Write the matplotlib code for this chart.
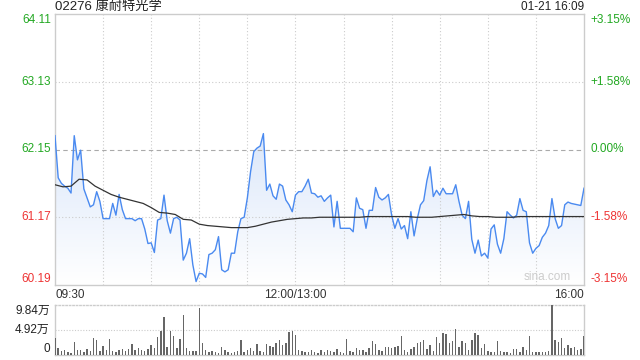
import numpy as np
import matplotlib
matplotlib.use("Agg")
import matplotlib.pyplot as plt

plt.rcParams['font.family'] = ['Liberation Sans', 'Noto Sans CJK SC', 'DejaVu Sans']

# stock info
title = "02276 康耐特光学"
stamp = "01-21 16:09"
prev_close = 62.15

# price every 2 minutes, 09:30 -> 16:00 (lunch break removed, 330 min)
price = [
    62.35, 61.74, 61.66, 61.62, 61.59, 61.52, 62.35, 62.00, 62.14, 61.58,
    61.45, 61.32, 61.35, 61.54, 61.40, 61.15, 61.15, 61.15, 61.37, 61.20,
    61.50, 61.28, 61.15, 61.15, 61.15, 61.12, 61.15, 61.15, 61.00, 60.79,
    60.80, 60.66, 61.13, 61.15, 61.49, 61.12, 60.94, 61.15, 61.17, 61.13,
    60.55, 60.65, 60.86, 60.48, 60.24, 60.36, 60.35, 60.30, 60.63, 60.65,
    60.70, 60.89, 60.41, 60.38, 60.41, 60.65, 60.65, 60.96, 61.15, 61.17,
    61.45, 61.83, 62.12, 62.17, 62.20, 62.38, 61.56, 61.65, 61.48, 61.43,
    61.65, 61.62, 61.42, 61.35, 61.25, 61.49, 61.54, 61.54, 61.62, 61.72,
    61.52, 61.51, 61.46, 61.48, 61.40, 61.45, 61.49, 61.03, 61.40, 61.01,
    61.01, 61.01, 61.01, 60.96, 61.45, 61.30, 61.28, 61.01, 61.27, 61.27,
    61.60, 61.46, 61.42, 61.45, 61.50, 61.20, 61.01, 61.15, 61.00, 61.05,
    60.86, 61.25, 60.90, 61.15, 61.35, 61.41, 61.70, 61.90, 61.47, 61.56,
    61.49, 61.59, 61.51, 61.51, 61.51, 61.64, 61.40, 61.20, 61.15, 61.40,
    60.85, 60.65, 60.84, 60.61, 60.65, 60.58, 61.00, 61.06, 60.78, 60.65,
    60.86, 61.25, 61.20, 61.16, 61.20, 61.44, 61.27, 61.25, 60.80, 60.65,
    60.72, 60.76, 60.88, 60.94, 61.05, 61.44, 61.15, 61.01, 61.05, 61.35,
    61.39, 61.37, 61.36, 61.35, 61.34, 61.59,
]

# average price every 5 minutes
avg_price = [
    61.64, 61.61, 61.62, 61.72, 61.71, 61.62, 61.56, 61.50, 61.46, 61.43,
    61.40, 61.37, 61.31, 61.24, 61.23, 61.21, 61.14, 61.13, 61.07, 61.05,
    61.04, 61.03, 61.02, 61.02, 61.02, 61.04, 61.07, 61.10, 61.12, 61.14,
    61.15, 61.16, 61.16, 61.17, 61.17, 61.17, 61.17, 61.17, 61.17, 61.18,
    61.18, 61.18, 61.18, 61.18, 61.18, 61.17, 61.17, 61.17, 61.18, 61.19,
    61.20, 61.21, 61.19, 61.18, 61.18, 61.17, 61.17, 61.17, 61.18, 61.18,
    61.18, 61.18, 61.18, 61.18, 61.18, 61.18, 61.18,
]

# volume every 2 minutes, in 万
volume = [
    3.3, 1.3, 0.8, 0.9, 0.5, 0.4, 2.6, 1.0, 0.9, 0.6,
    1.1, 0.8, 3.4, 3.0, 0.7, 1.8, 0.9, 3.1, 0.8, 0.5,
    0.9, 1.1, 0.7, 1.2, 2.2, 0.9, 1.3, 1.0, 0.8, 1.2,
    2.0, 1.3, 3.6, 4.8, 7.5, 1.6, 4.8, 3.7, 1.3, 3.2,
    7.9, 1.3, 0.8, 0.7, 0.7, 9.2, 2.3, 0.9, 0.6, 0.7,
    0.5, 0.4, 1.6, 0.9, 0.5, 0.4, 0.6, 0.8, 3.0, 0.6,
    0.9, 1.3, 0.8, 2.2, 0.7, 0.5, 2.1, 1.8, 1.6, 2.3,
    3.0, 1.9, 2.4, 4.5, 4.8, 3.9, 0.9, 0.7, 0.6, 0.5,
    0.9, 0.5, 0.4, 0.9, 0.6, 1.0, 0.8, 0.5, 1.1, 0.6,
    0.4, 3.1, 0.7, 0.5, 1.3, 0.9, 1.0, 0.6, 1.3, 2.8,
    2.2, 1.0, 0.7, 1.5, 1.6, 1.3, 1.6, 1.7, 3.8, 1.0,
    0.6, 1.1, 1.5, 2.3, 2.6, 3.0, 1.1, 2.0, 0.7, 3.5,
    2.3, 4.3, 4.1, 2.3, 2.8, 5.1, 1.5, 2.8, 2.3, 1.0,
    3.0, 4.3, 3.9, 1.3, 2.2, 0.7, 0.6, 0.5, 2.8, 0.7,
    0.5, 0.6, 0.4, 1.2, 1.1, 0.6, 1.6, 1.0, 3.7, 0.6,
    0.5, 0.6, 0.5, 0.6, 0.7, 9.84, 3.0, 2.5, 3.4, 1.3,
    2.0, 1.3, 1.5, 1.0, 1.1, 3.7,
]

left_ticks = [64.11, 63.13, 62.15, 61.17, 60.19]
right_ticks = ["+3.15%", "+1.58%", "0.00%", "-1.58%", "-3.15%"]
vol_ticks = [9.84, 4.92, 0]
vol_labels = ["9.84万", "4.92万", "0"]
time_labels = ["09:30", "12:00/13:00", "16:00"]

t = np.arange(len(price)) * 2
t_avg = np.arange(len(avg_price)) * 5
t_vol = np.arange(len(volume)) * 2

green = '#22a822'
red = '#ee3333'
grid = '#cccccc'

fig = plt.figure(figsize=(6.4, 3.6), dpi=100)
ax = fig.add_axes([55/640, 1-285/360, 529/640, 271/360])
axv = fig.add_axes([55/640, 1-355/360, 529/640, 50/360])

# main price panel
ax.set_xlim(0, 330)
ax.set_ylim(60.19, 64.11)
for x in range(30, 330, 30):
    ax.axvline(x, color=grid, lw=0.8, ls=(0, (1, 2)))
for y in [63.13, 61.17]:
    ax.axhline(y, color=grid, lw=0.8, ls=(0, (1, 2)))
ax.axhline(prev_close, color='#aaaaaa', lw=0.8, ls=(0, (4, 3)))

# gradient fill under price
poly = ax.fill_between(t, price, 60.19, color='none')
grad = np.linspace(1, 0, 256).reshape(-1, 1)
cmap = matplotlib.colors.LinearSegmentedColormap.from_list('f', ['#ffffff', '#dbe7fa'])
img = ax.imshow(grad, cmap=cmap, aspect='auto', extent=[0, 330, 60.19, 62.4],
                origin='upper', zorder=1)
img.set_clip_path(poly.get_paths()[0], transform=ax.transData)
ax.set_ylim(60.19, 64.11)

ax.plot(t, price, color='#4a8af0', lw=1.0, zorder=3)
ax.plot(t_avg, avg_price, color='#333333', lw=0.9, zorder=4)

ax.set_xticks([])
ax.set_yticks([])
for s in ax.spines.values():
    s.set_color(grid)
    s.set_linewidth(1)

# left / right labels
for i, v in enumerate(left_ticks):
    col = green if v >= prev_close else red
    va = 'top' if i == 0 else ('bottom' if i == len(left_ticks) - 1 else 'center')
    ax.text(-0.008, v, f"{v:.2f}", transform=ax.get_yaxis_transform(),
            ha='right', va=va, color=col, fontsize=8.5)
    ax.text(1.012, v, right_ticks[i], transform=ax.get_yaxis_transform(),
            ha='left', va=va, color=col, fontsize=8.5)

ax.text(1.0 - 0.025, 60.19 + 0.03, "sina.com", transform=ax.get_yaxis_transform(),
        ha='right', va='bottom', color='#cccccc', fontsize=8.5)

fig.text(55/640, 1-7/360, title, ha='left', va='center', fontsize=9.5, color='#222222')
fig.text(584/640, 1-7/360, stamp, ha='right', va='center', fontsize=8.5, color='#222222')

for x, lab, ha in zip([0, 150, 330], time_labels, ['left', 'center', 'right']):
    ax.text(x, -0.015, lab, transform=ax.get_xaxis_transform(), ha=ha, va='top',
            fontsize=8.5, color='#333333')

# volume panel
axv.bar(t_vol, volume, width=0.9, color='#666666', zorder=3)
axv.set_xlim(0, 330)
axv.set_ylim(0, 9.84)
axv.axhline(4.92, color=grid, lw=0.8, ls=(0, (1, 1.5)))
axv.set_xticks([])
axv.set_yticks([])
for s in axv.spines.values():
    s.set_color(grid)
    s.set_linewidth(1)
axv.spines['top'].set_linestyle((0, (1, 1.5)))
for v, lab in zip(vol_ticks, vol_labels):
    va = 'top' if v == 9.84 else 'center'
    if v == 0:
        va = 'bottom'
    axv.text(-0.01, v, lab, transform=axv.get_yaxis_transform(), ha='right', va=va,
             fontsize=8.5, color='#222222')

fig.savefig("out.png", dpi=100)
